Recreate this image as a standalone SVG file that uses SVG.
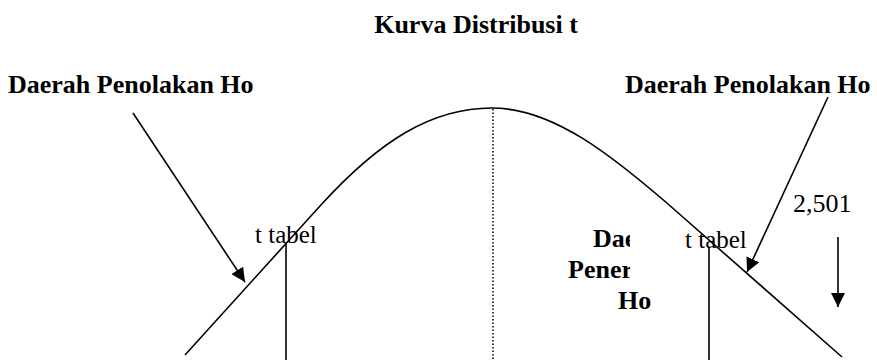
<svg xmlns="http://www.w3.org/2000/svg" width="877" height="360" viewBox="0 0 877 360">
<style>
.t{font-family:"Liberation Serif","Times New Roman",serif;fill:#000;font-size:26px}
.b{font-weight:bold}
.r{font-size:25px}
.ln{stroke:#000;stroke-width:1.6;fill:none}
</style>
<defs>
<marker id="ah" viewBox="0 0 14 14" refX="14" refY="7" markerWidth="14" markerHeight="14" markerUnits="userSpaceOnUse" orient="auto">
<path d="M0,0 L14,7 L0,14 z" fill="#000"/>
</marker>
<clipPath id="cp"><rect x="550" y="220" width="80" height="65"/></clipPath>
</defs>
<rect width="877" height="360" fill="#fff"/>
<g id="title"><text class="t b" x="476" y="33" text-anchor="middle">Kurva Distribusi t</text></g>
<g id="curve">
<path class="ln" d="M185,355 L320,206 C380,140 432,108 492,108 C552,108 610,153 680,214.5 L842,357"/>
<line x1="493" y1="109" x2="493" y2="360" stroke="#000" stroke-width="1.5" stroke-dasharray="1.5 2"/>
<line class="ln" x1="286" y1="243" x2="286" y2="360"/>
<line class="ln" x1="709" y1="247" x2="709" y2="360"/>
</g>
<g id="label-left"><text class="t b" x="8" y="93">Daerah Penolakan Ho</text></g>
<g id="label-right"><text class="t b" x="625" y="93">Daerah Penolakan Ho</text></g>
<g id="ttabel-left"><text class="t r" x="255" y="243">t tabel</text></g>
<g id="ttabel-right"><text class="t r" x="685" y="248">t tabel</text></g>
<g id="value"><text class="t" x="793" y="212">2,501</text></g>
<g id="accept">
<g clip-path="url(#cp)">
<text class="t b" x="593" y="247">Daerah</text>
<text class="t b" x="568" y="278">Penerimaan</text>
</g>
<text class="t b" x="618" y="309">Ho</text>
</g>
<g id="connectors">
<line class="ln" x1="133" y1="113" x2="245" y2="282" marker-end="url(#ah)"/>
<line class="ln" x1="828" y1="97" x2="747" y2="272" marker-end="url(#ah)"/>
<line class="ln" x1="838" y1="237" x2="838" y2="307" marker-end="url(#ah)"/>
</g>
</svg>
